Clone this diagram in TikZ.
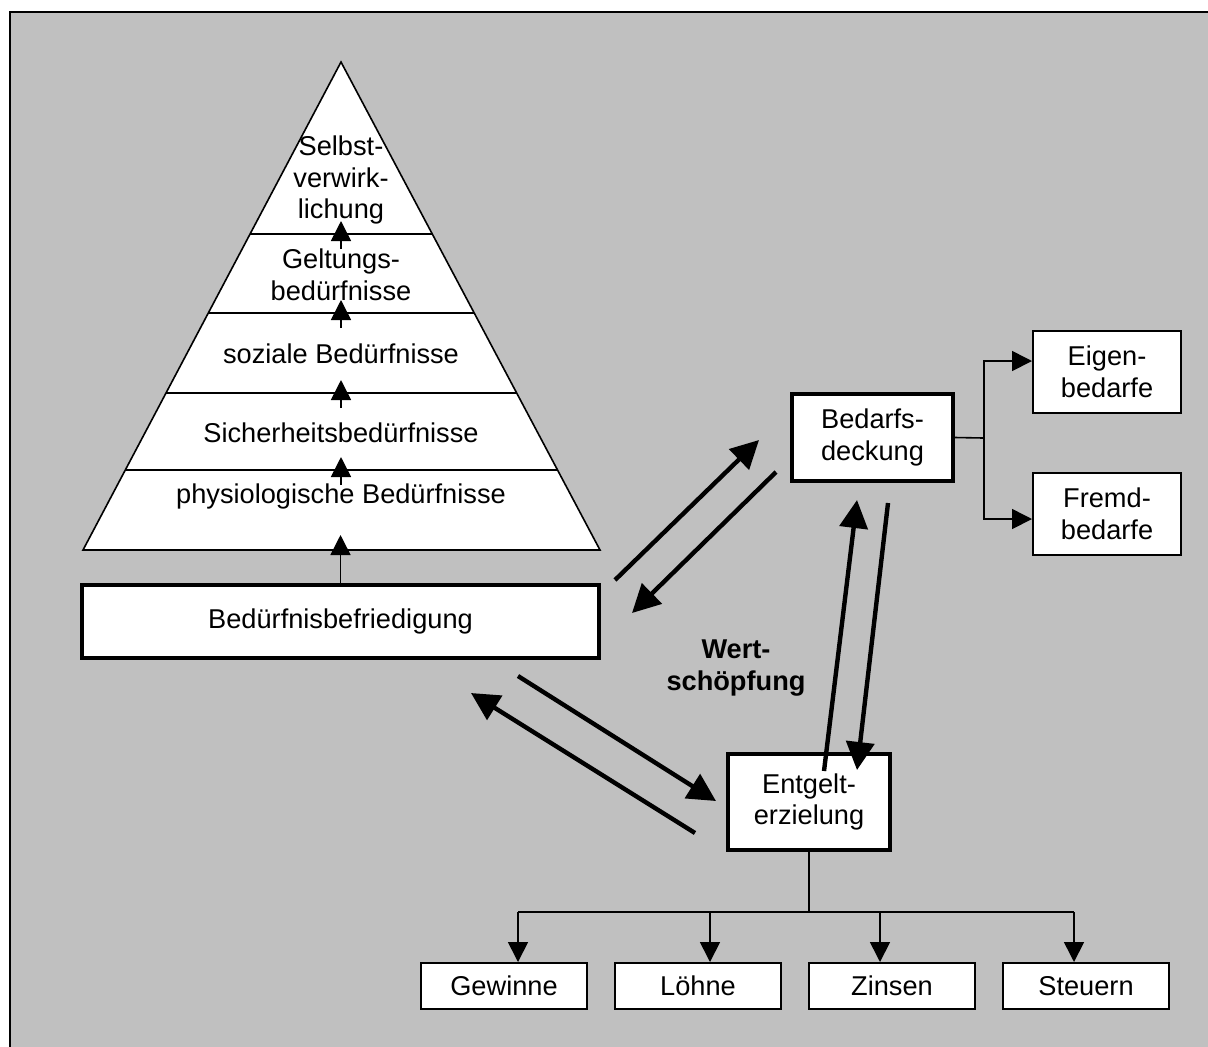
\documentclass[tikz,border=0pt]{standalone}
\usepackage{fontspec}
\setmainfont{Liberation Sans}
\usetikzlibrary{arrows.meta}

\definecolor{grau}{RGB}{192,192,192}

\begin{document}
\begin{tikzpicture}[x=0.5pt, y=-0.5pt,
  font=\fontsize{13.6}{15.9}\selectfont,
  kasten/.style={draw, fill=white, line width=1pt, align=center, inner sep=0pt},
  hauptkasten/.style={kasten, line width=2.2pt},
  stufe/.style={align=center, inner sep=0pt},
  kpfeil/.style={-{Triangle[length=10pt,width=10pt]}, line width=0.8pt},
  gpfeil/.style={-{Triangle[length=14pt,width=14pt]}, line width=2.2pt}]
\useasboundingbox (0,0) rectangle (1208,1046);
\clip (0,0) rectangle (1208,1046);
\filldraw[fill=grau, line width=1.2pt] (10,12) rectangle (1230,1070);

% Beduerfnispyramide
\coordinate (spitze) at (341,62);
\coordinate (bl) at (83,550);
\coordinate (br) at (600,550);
\filldraw[fill=white, line width=0.8pt] (spitze) -- (br) -- (bl) -- cycle;
\begin{scope}
  \clip (spitze) -- (br) -- (bl) -- cycle;
  \foreach \y/\n in {234/s4, 313/s3, 393/s2, 470/s1}
    \draw[line width=0.8pt] (60,\y) coordinate (\n) -- (620,\y);
\end{scope}
\node[stufe] (phys)   at (341,496) {physiologische Bedürfnisse};
\node[stufe] (sich)   at (341,433) {Sicherheitsbedürfnisse};
\node[stufe] (soz)    at (341,354) {soziale Bedürfnisse};
\node[stufe] (gelt)   at (341,275) {Geltungs-\\bedürfnisse};
\node[stufe] (selbst) at (341,180) {Selbst-\\verwirk-\\lichung};
\foreach \n in {s1,s2,s3,s4}
  \draw[kpfeil] ([yshift=-7.5pt]341,0 |- \n) -- ([yshift=6.5pt]341,0 |- \n);

% Kaesten
\node[hauptkasten, minimum width=258.5pt, minimum height=36.5pt] (bb) at (340.5,621.5) {Bedürfnisbefriedigung};
\node[hauptkasten, minimum width=80.5pt, minimum height=43.5pt] (bd) at (872.5,437.5) {Bedarfs-\\deckung};
\node[hauptkasten, minimum width=81pt, minimum height=48pt] (ee) at (809,802) {Entgelt-\\erzielung};
\node[kasten, minimum width=74pt, minimum height=41pt] (eb) at (1107,372) {Eigen-\\bedarfe};
\node[kasten, minimum width=74pt, minimum height=41pt] (fb) at (1107,514) {Fremd-\\bedarfe};
\node[kasten, minimum width=83pt, minimum height=23pt] (gw) at (504,986) {Gewinne};
\node[kasten, minimum width=83pt, minimum height=23pt] (lo) at (698,986) {Löhne};
\node[kasten, minimum width=83pt, minimum height=23pt] (zi) at (892,986) {Zinsen};
\node[kasten, minimum width=83pt, minimum height=23pt] (st) at (1086,986) {Steuern};
\node[stufe, font=\fontsize{13.6}{15.9}\selectfont\bfseries] (ws) at (736,668) {Wert-\\schöpfung};

\draw[kpfeil] (bb.north) -- ([yshift=7.5pt]bb.north |- bl);

% Verzweigungen
\coordinate (verz) at (984,438);
\draw[line width=0.8pt] (bd.east) -- (verz);
\draw[kpfeil] (verz) |- ([yshift=5.5pt]eb.west);
\draw[kpfeil] (verz) |- ([yshift=-2.5pt]fb.west);
\coordinate (knoten) at (809,912);
\draw[line width=0.8pt] (ee.south) -- (knoten);
\draw[line width=0.8pt] ([xshift=7pt]gw.north |- knoten) -- ([xshift=-6pt]st.north |- knoten);
\foreach \z/\s in {gw/7pt, lo/6pt, zi/-6pt, st/-6pt}
  \draw[kpfeil] ([xshift=\s]\z.north |- knoten) -- ([xshift=\s]\z.north);

% Wertschoepfungskreislauf
\coordinate (a1) at (615,580);  \coordinate (b1) at (759,440);
\coordinate (a2) at (776,472);  \coordinate (b2) at (632,613);
\coordinate (a3) at (518,676);  \coordinate (b3) at (716,801);
\coordinate (a4) at (695,833);  \coordinate (b4) at (471,693);
\coordinate (a5) at (824,771);  \coordinate (b5) at (857,500);
\coordinate (a6) at (888,503);  \coordinate (b6) at (857,770);
\foreach \i in {1,...,6}
  \draw[gpfeil] (a\i) -- (b\i);
\end{tikzpicture}
\end{document}
